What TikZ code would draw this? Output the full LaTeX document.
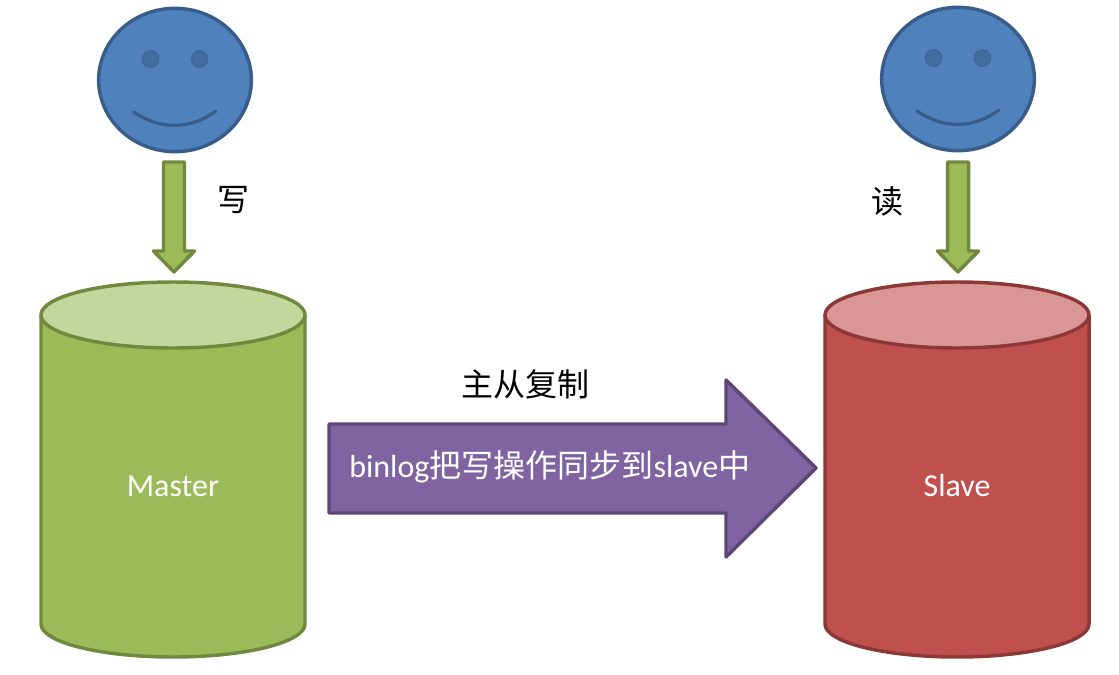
\documentclass[tikz,border=0pt]{standalone}
\usepackage{fontspec}
\setmainfont{Carlito}
\newfontfamily\cjk{Noto Sans CJK SC}
\usetikzlibrary{shapes.geometric}
\definecolor{bluefill}{HTML}{4F81BD}
\definecolor{blueline}{HTML}{385D8A}
\definecolor{eyefill}{HTML}{426E9F}
\definecolor{greenfill}{HTML}{9BBB59}
\definecolor{greenline}{HTML}{71893F}
\definecolor{greentop}{HTML}{C3D69B}
\definecolor{redfill}{HTML}{C0504D}
\definecolor{redline}{HTML}{8C3836}
\definecolor{redtop}{HTML}{D99694}
\definecolor{purplefill}{HTML}{8064A2}
\definecolor{purpleline}{HTML}{5C4776}
\tikzset{
  x=0.75pt,y=-0.75pt,
  shapeline/.style={line width=2.6pt,line join=round},
  facebody/.style={ellipse,draw=blueline,fill=bluefill,line width=2.6pt,minimum width=114.5pt,minimum height=107.5pt,inner sep=0pt},
  faceeye/.style={circle,draw=blueline!70!bluefill,fill=eyefill,line width=1.4pt,minimum size=12pt,inner sep=0pt},
  smile/.style={draw=blueline,line width=2.4pt,line cap=round},
  downarrow/.style={draw=greenline,fill=greenfill,shapeline},
  whitelabel/.style={text=white,font=\fontsize{24}{28}\selectfont,inner sep=0pt},
  blacklabel/.style={text=black,font=\cjk\fontsize{24}{28}\selectfont,inner sep=0pt},
}
\newcommand{\drawcyl}[4]{%
  \draw[#2,fill=#3,shapeline] (#1-132,315) -- (#1-132,624) arc[start angle=180,end angle=0,x radius=132,y radius=33] -- (#1+132,315) -- cycle;
  \draw[#2,fill=#4,shapeline] (#1,315) ellipse[x radius=132,y radius=33];
}
\newcommand{\drawface}[3]{%
  \node[facebody] (#3) at (#1,#2) {};
  \node[faceeye] (#3eyeL) at (#1-24.5,#2-21) {};
  \node[faceeye] (#3eyeR) at (#1+24.5,#2-21) {};
  \draw[smile] (#1-41,#2+32) .. controls (#1-15,#2+50) and (#1+15,#2+50) .. (#1+41,#2+31);
}
\newcommand{\drawdown}[1]{%
  \draw[downarrow] (#1-10.5,162) -- (#1+10.5,162) -- (#1+10.5,251) -- (#1+20.5,251) -- (#1,272) -- (#1-20.5,251) -- (#1-10.5,251) -- cycle;
}
\begin{document}
\begin{tikzpicture}
\useasboundingbox (0,0) rectangle (1119,674);
\fill[white] (0,0) rectangle (1119,674);
\drawface{175}{80}{faceL}
\drawface{958}{79}{faceR}
\drawdown{174}
\drawdown{958}
\drawcyl{173}{greenline}{greenfill}{greentop}
\drawcyl{957}{redline}{redfill}{redtop}
\draw[draw=purpleline,fill=purplefill,shapeline] (329,424) -- (726,424) -- (726,380) -- (816,468) -- (726,557) -- (726,513) -- (329,513) -- cycle;
\node[whitelabel] (master) at (173,486) {Master};
\node[whitelabel] (slave) at (957,486) {Slave};
\node[whitelabel,anchor=west] (sync) at (349,467) {binlog{\cjk 把写操作同步到}slave{\cjk 中}};
\node[blacklabel] (repl) at (525,384) {主从复制};
\node[blacklabel] (write) at (233,200) {写};
\node[blacklabel] (read) at (887,201) {读};
\end{tikzpicture}
\end{document}
